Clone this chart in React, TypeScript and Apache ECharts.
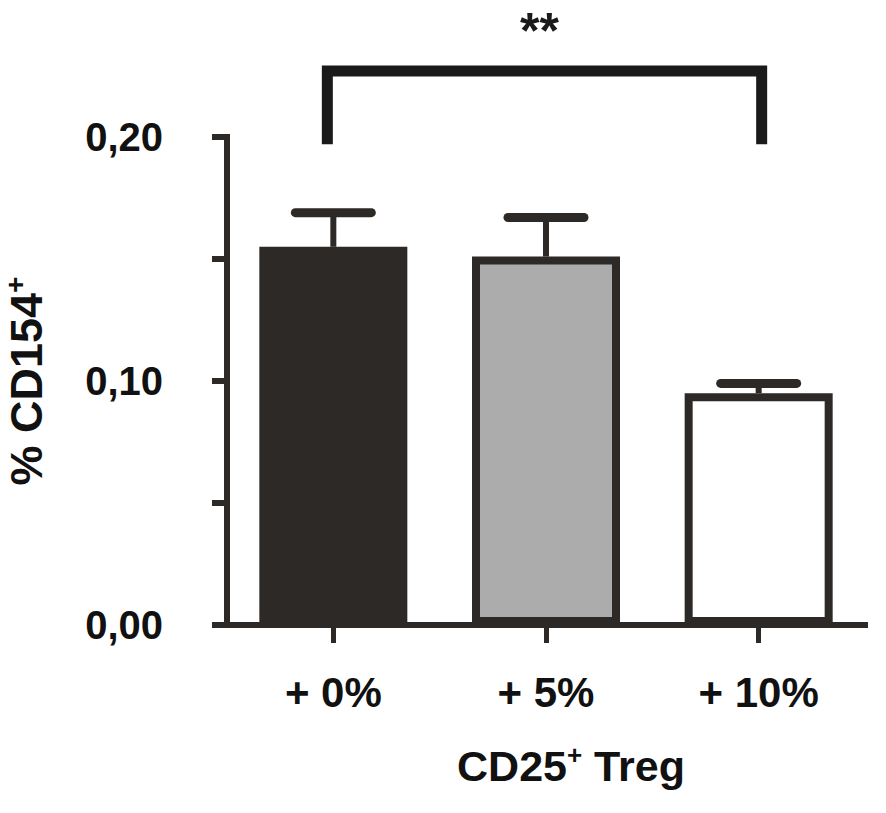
import React, { useEffect, useRef } from "react";
import * as echarts from "echarts";

const categories = ["+ 0%", "+ 5%", "+ 10%"];
const meanValues = [0.155, 0.151, 0.095];
const upperValues = [0.169, 0.167, 0.099];
const barColors = ["#2d2926", "#acacac", "#ffffff"];
const yMin = 0;
const yMax = 0.2;
const yInterval = 0.05;
const yLabeledTicks = [0, 0.1, 0.2];
const sigFrom = 0;
const sigTo = 2;
const sigBase = 0.197;
const sigTop = 0.227;
const sigLabel = "**";

const AX = "#2d2926";
const TXT = "#111111";
const FONT = '"Liberation Sans", Arial, Helvetica, sans-serif';

export default function App() {
  const ref = useRef<HTMLDivElement>(null);
  useEffect(() => {
    document.body.style.margin = "0";
    if (!ref.current) return;
    const chart = echarts.init(ref.current, null, { renderer: "svg" });
    const option: any = {
      animation: false,
      backgroundColor: "#ffffff",
      grid: { left: 227, right: 21, top: 137, bottom: 188, containLabel: false, outerBoundsMode: "none" },
      xAxis: {
        type: "category",
        data: categories,
        name: "CD25{s|+} Treg",
        nameLocation: "middle",
        nameGap: 117,
        nameTextStyle: {
          fontFamily: FONT,
          fontWeight: "bold",
          fontSize: 43,
          color: TXT,
          lineHeight: 48,
          padding: [0, 0, 0, 50],
          rich: {
            s: { fontFamily: FONT, fontWeight: "bold", fontSize: 26, color: TXT, verticalAlign: "top", lineHeight: 28 },
          },
        },
        axisLine: { show: true, lineStyle: { color: AX, width: 6, cap: "square" } },
        axisTick: { show: true, alignWithLabel: true, length: 18, lineStyle: { color: AX, width: 5 } },
        axisLabel: { fontFamily: FONT, fontWeight: "bold", fontSize: 42, color: TXT, margin: 46 },
        splitLine: { show: false },
      },
      yAxis: {
        type: "value",
        min: yMin,
        max: yMax,
        interval: yInterval,
        name: "% CD154{s|+}",
        nameLocation: "middle",
        nameGap: 176,
        nameRotate: 90,
        nameTextStyle: {
          fontFamily: FONT,
          fontWeight: "bold",
          fontSize: 45,
          color: TXT,
          lineHeight: 50,
          rich: {
            s: { fontFamily: FONT, fontWeight: "bold", fontSize: 28, color: TXT, verticalAlign: "top", lineHeight: 30 },
          },
        },
        axisLine: { show: true, lineStyle: { color: AX, width: 6, cap: "square" } },
        axisTick: { show: true, length: 15, lineStyle: { color: AX, width: 6 } },
        axisLabel: {
          fontFamily: FONT,
          fontWeight: "bold",
          fontSize: 40,
          color: TXT,
          margin: 64,
          formatter: (v: number) =>
            yLabeledTicks.some((t) => Math.abs(t - v) < 1e-9) ? v.toFixed(2).replace(".", ",") : "",
        },
        splitLine: { show: false },
      },
      series: [
        {
          type: "bar",
          barWidth: 148,
          z: 2,
          itemStyle: { borderColor: AX, borderWidth: 8 },
          data: meanValues.map((v, i) => ({ value: v, itemStyle: { color: barColors[i] } })),
        },
        {
          type: "custom",
          z: 3,
          clip: false,
          encode: { x: 0, y: [1, 2] },
          data: meanValues.map((v, i) => [i, v, upperValues[i]]),
          renderItem: (params: any, api: any) => {
            const idx = api.value(0);
            const p0 = api.coord([idx, api.value(1)]);
            const p1 = api.coord([idx, api.value(2)]);
            return {
              type: "group",
              children: [
                {
                  type: "line",
                  shape: { x1: p0[0], y1: p0[1], x2: p1[0], y2: p1[1] },
                  style: { stroke: AX, lineWidth: 6 },
                },
                {
                  type: "line",
                  shape: { x1: p1[0] - 38, y1: p1[1], x2: p1[0] + 38, y2: p1[1] },
                  style: { stroke: AX, lineWidth: 9, lineCap: "round" },
                },
              ],
            };
          },
        },
        {
          type: "custom",
          z: 3,
          clip: false,
          encode: { x: [0, 1], y: [2, 3] },
          data: [[sigFrom, sigTo, sigBase, sigTop]],
          renderItem: (params: any, api: any) => {
            const a = api.coord([api.value(0), api.value(3)]);
            const b = api.coord([api.value(1), api.value(3)]);
            const base = api.coord([api.value(0), api.value(2)]);
            const xl = a[0] - 6;
            const xr = b[0] + 3;
            return {
              type: "group",
              children: [
                {
                  type: "polyline",
                  shape: { points: [[xl, base[1]], [xl, a[1]], [xr, a[1]], [xr, base[1]]] },
                  style: { stroke: "#1a1a1a", lineWidth: 11, lineJoin: "miter", fill: "none" },
                },
                {
                  type: "text",
                  x: (xl + xr) / 2 - 5,
                  y: Math.max(31, a[1] - 40),
                  style: {
                    text: sigLabel,
                    fontFamily: FONT,
                    fontWeight: "bold",
                    fontSize: 50,
                    lineHeight: 50,
                    fill: "#1a1a1a",
                    align: "center",
                    verticalAlign: "middle",
                  },
                },
              ],
            };
          },
        },
      ],
    };
    chart.setOption(option);
    return () => chart.dispose();
  }, []);
  return (
    <div
      ref={ref}
      style={{ position: "absolute", left: 0, top: 0, width: 886, height: 813 }}
    />
  );
}
